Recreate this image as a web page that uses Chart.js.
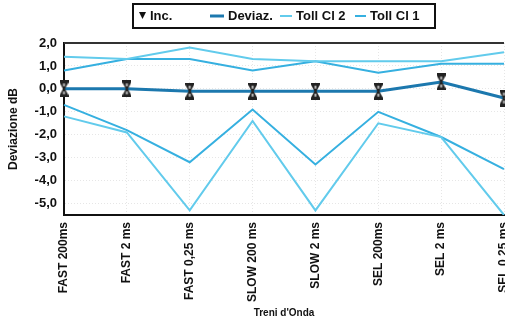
<!DOCTYPE html>
<html>
<head>
<meta charset="utf-8">
<script src="https://cdn.jsdelivr.net/npm/chart.js@4"></script>
<style>
  html, body { margin: 0; padding: 0; background: #fff; }
  #box { width: 505px; height: 320px; }
</style>
</head>
<body>
<div id="box"><canvas id="grafico"></canvas></div>
<script>
// Treni d'onda e deviazioni misurate (dB)
var categorie = ["FAST 200ms", "FAST 2 ms", "FAST 0,25 ms", "SLOW 200 ms", "SLOW 2 ms", "SEL 200ms", "SEL 2 ms", "SEL 0,25 ms"];
var deviazione = [0.0, 0.0, -0.1, -0.1, -0.1, -0.1, 0.3, -0.4];
var tollCl2Sup = [1.4, 1.3, 1.8, 1.3, 1.2, 1.2, 1.2, 1.6];
var tollCl2Inf = [-1.2, -1.9, -5.3, -1.4, -5.3, -1.5, -2.1, -5.5];
var tollCl1Sup = [0.8, 1.3, 1.3, 0.8, 1.2, 0.7, 1.1, 1.1];
var tollCl1Inf = [-0.7, -1.8, -3.2, -0.9, -3.3, -1.0, -2.1, -3.5];
var tickY = [2, 1, 0, -1, -2, -3, -4, -5];

var coloreDev = "#1c78ae";
var coloreCl2 = "#62cbec";
var coloreCl1 = "#36b0e0";
var fontBase = "Liberation Sans";

// marcatore a clessidra per l'incertezza
function clessidra(w, h) {
    var c = document.createElement("canvas");
    c.width = w; c.height = h;
    var g = c.getContext("2d");
    g.fillStyle = "#222";
    g.beginPath();
    g.moveTo(0, 0); g.lineTo(w, 0);
    g.lineTo(w, 2); g.lineTo(w / 2 + 1, h / 2);
    g.lineTo(w, h - 2); g.lineTo(w, h);
    g.lineTo(0, h); g.lineTo(0, h - 2);
    g.lineTo(w / 2 - 1, h / 2);
    g.lineTo(0, 2);
    g.closePath();
    g.fill();
    g.fillStyle = "#bbb";
    g.fillRect(w / 2 - 1, 3, 2, 3);
    g.fillRect(w / 2 - 1, h - 6, 2, 3);
    return c;
}
var marcatore = clessidra(9, 17);

// legenda incorniciata in alto e bordo superiore dell'area del grafico
var cornice = {
    id: "cornice",
    afterDraw: function (chart) {
        var ctx = chart.ctx;
        var ds = chart.data.datasets;
        ctx.save();
        ctx.strokeStyle = "#111";
        ctx.lineWidth = 2;
        ctx.strokeRect(133, 4, 302, 24);

        ctx.font = "bold 13px " + fontBase;
        ctx.textBaseline = "middle";
        ctx.fillStyle = "#111";
        var yc = 16;
        // Inc.: triangolo
        ctx.beginPath();
        ctx.moveTo(139, yc - 4); ctx.lineTo(146, yc - 4); ctx.lineTo(142.5, yc + 3);
        ctx.closePath();
        ctx.fill();
        ctx.fillText(ds[0].label, 150, yc);
        // linee delle serie
        var voci = [[1, 210, 224, 3], [2, 280, 292, 2], [3, 355, 366, 2]];
        voci.forEach(function (v) {
            var d = ds[v[0]];
            ctx.strokeStyle = d.borderColor;
            ctx.lineWidth = v[3];
            ctx.beginPath();
            ctx.moveTo(v[1], yc);
            ctx.lineTo(v[2], yc);
            ctx.stroke();
            ctx.fillStyle = "#111";
            ctx.fillText(d.label, v[2] + 4, yc);
        });

        var a = chart.chartArea;
        ctx.strokeStyle = "#333";
        ctx.lineWidth = 2;
        ctx.beginPath();
        ctx.moveTo(a.left, a.top);
        ctx.lineTo(a.right, a.top);
        ctx.stroke();
        ctx.restore();
    }
};

function serie(label, data, colore, spessore) {
    return {
        label: label,
        data: data,
        borderColor: colore,
        backgroundColor: colore,
        borderWidth: spessore,
        pointRadius: 0,
        tension: 0,
        fill: false
    };
}

var ctx = document.getElementById("grafico").getContext("2d");
var myChart = new Chart(ctx, {
    type: "line",
    data: {
        labels: categorie,
        datasets: [
            {
                label: "Inc.",
                data: deviazione,
                showLine: false,
                pointStyle: marcatore,
                pointRadius: 8,
                borderColor: "#111",
                backgroundColor: "#111"
            },
            serie("Deviaz.", deviazione, coloreDev, 3),
            serie("Toll Cl 2", tollCl2Sup, coloreCl2, 2),
            serie("Toll Cl 1", tollCl1Sup, coloreCl1, 2),
            serie("Toll Cl 2", tollCl2Inf, coloreCl2, 2),
            serie("Toll Cl 1", tollCl1Inf, coloreCl1, 2)
        ]
    },
    options: {
        responsive: true,
        maintainAspectRatio: false,
        animation: false,
        layout: { autoPadding: false, padding: { left: 6, right: 1, top: 43, bottom: 0 } },
        plugins: {
            tooltip: { enabled: false },
            legend: { display: false }
        },
        scales: {
            x: {
                offset: false,
                afterFit: function (scale) {
                    scale.height = 105;
                    scale.paddingLeft = 0;
                    scale.paddingRight = 0;
                },
                grid: { color: "#e6e6e6", drawTicks: false },
                border: { color: "#111", width: 2, dash: [1, 2] },
                ticks: {
                    maxRotation: 90,
                    minRotation: 90,
                    padding: 7,
                    color: "#111",
                    font: { family: fontBase, size: 12, weight: "bold" }
                },
                title: {
                    display: true,
                    text: "Treni d'Onda",
                    color: "#111",
                    padding: { top: 0, bottom: 1 },
                    font: { family: fontBase, size: 10, weight: "bold" }
                }
            },
            y: {
                min: -5.5,
                max: 2,
                afterBuildTicks: function (scale) {
                    scale.ticks = tickY.map(function (v) { return { value: v }; });
                },
                afterFit: function (scale) {
                    scale.width = 58;
                    scale.paddingTop = 0;
                    scale.paddingBottom = 0;
                },
                grid: { color: "#e6e6e6", drawTicks: false },
                border: { color: "#111", width: 2, dash: [1, 2] },
                ticks: {
                    padding: 7,
                    color: "#111",
                    font: { family: fontBase, size: 13, weight: "bold" },
                    callback: function (value) {
                        return value.toFixed(1).replace(".", ",");
                    }
                },
                title: {
                    display: true,
                    text: "Deviazione dB",
                    color: "#111",
                    padding: { top: 0, bottom: 2 },
                    font: { family: fontBase, size: 12, weight: "bold" }
                }
            }
        }
    },
    plugins: [cornice]
});
</script>
</body>
</html>
